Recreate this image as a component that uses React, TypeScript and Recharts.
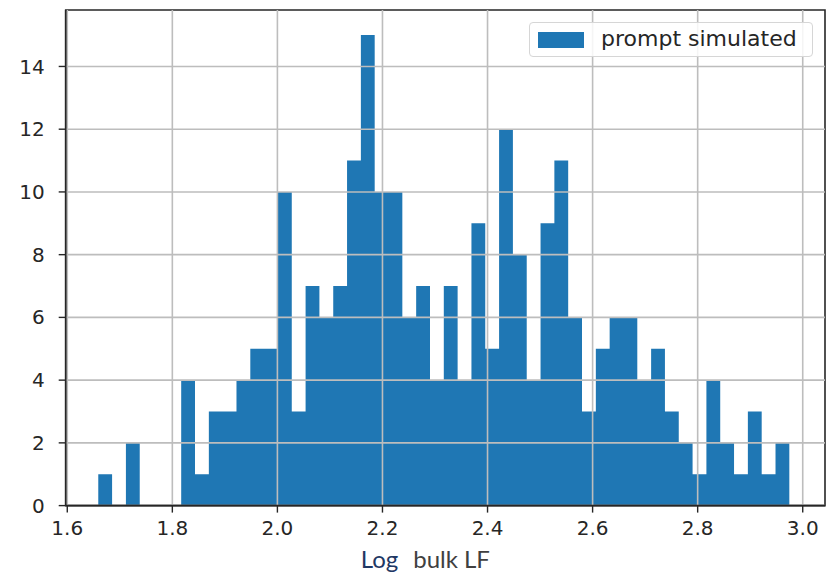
import React from "react";
import {
  ComposedChart,
  Area,
  XAxis,
  YAxis,
  ReferenceLine,
  ReferenceArea,
  Legend,
} from "recharts";

// Histogram of log bulk LF: 50 equal-width bins
const binCounts: number[] = [
  1, 0, 2, 0, 0, 0, 4, 1, 3, 3,
  4, 5, 5, 10, 3, 7, 6, 7, 11, 15,
  10, 10, 6, 7, 4, 7, 4, 9, 5, 12,
  8, 4, 9, 11, 6, 3, 5, 6, 6, 4,
  5, 3, 2, 1, 4, 2, 1, 3, 1, 2,
];
const binLow = 1.659;
const binHigh = 2.9745;

const xTicks: number[] = [1.6, 1.8, 2.0, 2.2, 2.4, 2.6, 2.8, 3.0];
const yTicks: number[] = [0, 2, 4, 6, 8, 10, 12, 14];
const seriesName = "prompt simulated";

const X_DOMAIN: [number, number] = [1.597, 3.0424];
const Y_DOMAIN: [number, number] = [0, 15.8];

const BLUE = "#1f77b4";
const SPINE = "#262626";
const GRID = "#bdbdbd";
const TICK_FONT = "'DejaVu Sans', sans-serif";

// step data: each bin edge carries the count of the bin that starts there
const binWidth = (binHigh - binLow) / binCounts.length;
const stepData = binCounts.map((count, i) => ({ x: binLow + i * binWidth, count }));
stepData.push({ x: binHigh, count: binCounts[binCounts.length - 1] });

const LegendBox = () => (
  <div
    style={{
      position: "absolute",
      left: 529,
      top: 22,
      width: 284,
      height: 35,
      border: "1px solid #d6d6d6",
      borderRadius: 4,
      background: "rgba(255,255,255,0.85)",
      boxSizing: "border-box",
    }}
  >
    <div
      style={{
        position: "absolute",
        left: 8,
        top: 9,
        width: 46,
        height: 16,
        background: BLUE,
      }}
    />
    <div
      style={{
        position: "absolute",
        left: 71,
        top: 3,
        fontFamily: TICK_FONT,
        fontSize: 22,
        color: SPINE,
        whiteSpace: "nowrap",
        lineHeight: "26px",
      }}
    >
      {seriesName}
    </div>
  </div>
);

const XLabel = (props: any) => {
  const vb = props.viewBox || {};
  const cx = vb.x + vb.width / 2;
  return (
    <text
      x={cx - 20}
      y={568}
      textAnchor="middle"
      fontFamily="Lato, 'Open Sans', sans-serif"
      fontSize={24}
    >
      <tspan fill="#1f3864">Log</tspan>
      <tspan fill="#404040" dx={15}>bulk LF</tspan>
    </text>
  );
};

export default function App() {
  return (
    <div style={{ position: "absolute", left: 0, top: 0, width: 829, height: 575, background: "#fff" }}>
      <ComposedChart
        width={829}
        height={575}
        data={stepData}
        margin={{ top: 10, right: 4, left: 0, bottom: 0 }}
      >
        <XAxis
          dataKey="x"
          type="number"
          domain={X_DOMAIN}
          ticks={xTicks}
          allowDataOverflow
          height={69.4}
          tickSize={7}
          tickMargin={8}
          tickFormatter={(v: number) => v.toFixed(1)}
          tick={{ fill: SPINE, fontSize: 20, fontFamily: TICK_FONT }}
          axisLine={{ stroke: SPINE, strokeWidth: 1.6 }}
          tickLine={{ stroke: SPINE, strokeWidth: 1.4 }}
          label={<XLabel />}
        />
        <YAxis
          type="number"
          domain={Y_DOMAIN}
          ticks={yTicks}
          allowDataOverflow
          width={65.7}
          tickSize={7}
          tickMargin={14}
          tick={{ fill: SPINE, fontSize: 20, fontFamily: TICK_FONT }}
          axisLine={{ stroke: SPINE, strokeWidth: 1.6 }}
          tickLine={{ stroke: SPINE, strokeWidth: 1.4 }}
        />
        <Area
          dataKey="count"
          name={seriesName}
          type="stepAfter"
          baseValue={0}
          stroke="none"
          fill={BLUE}
          fillOpacity={1}
          isAnimationActive={false}
          dot={false}
          activeDot={false}
        />
        {/* grid drawn over the bars */}
        {xTicks.map((t) => (
          <ReferenceLine key={`gx${t}`} x={t} stroke={GRID} strokeWidth={1.6} />
        ))}
        {yTicks.map((t) => (
          <ReferenceLine key={`gy${t}`} y={t} stroke={GRID} strokeWidth={1.6} />
        ))}
        <ReferenceArea
          x1={X_DOMAIN[0]}
          x2={X_DOMAIN[1]}
          y1={Y_DOMAIN[0]}
          y2={Y_DOMAIN[1]}
          fill="none"
          fillOpacity={0}
          stroke={SPINE}
          strokeWidth={1.6}
          ifOverflow="visible"
        />
        <Legend content={() => <LegendBox />} wrapperStyle={{ position: "absolute", left: 0, top: 0, width: 0, height: 0 }} />
      </ComposedChart>
    </div>
  );
}
